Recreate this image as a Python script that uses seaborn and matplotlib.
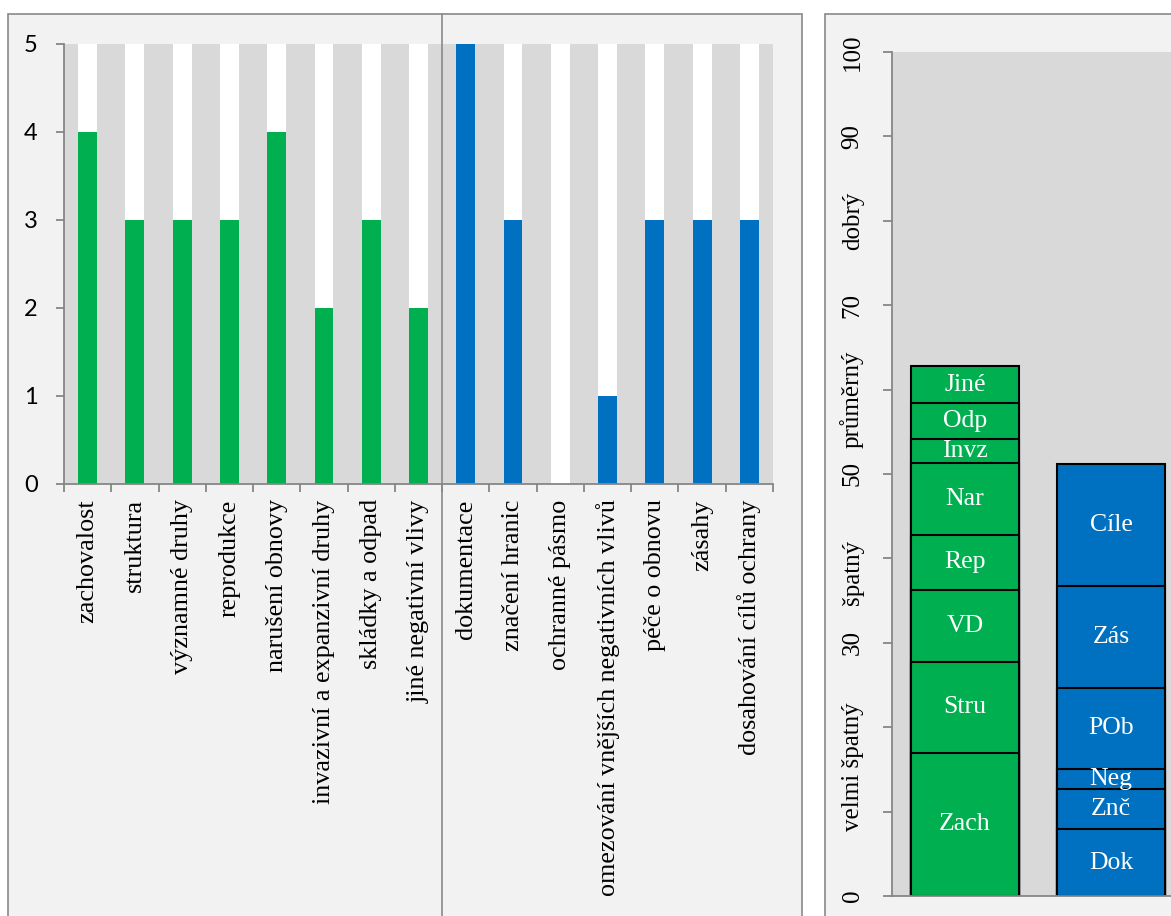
import numpy as np
import pandas as pd
import matplotlib
matplotlib.use("Agg")
import matplotlib.pyplot as plt
import seaborn as sns
from matplotlib.patches import Rectangle
from matplotlib.lines import Line2D
from matplotlib.transforms import blended_transform_factory

# ---- data -----------------------------------------------------------------
criteria_state = ["zachovalost", "struktura", "významné druhy", "reprodukce",
                  "narušení obnovy", "invazivní a expanzivní druhy",
                  "skládky a odpad", "jiné negativní vlivy"]
criteria_care = ["dokumentace", "značení hranic", "ochranné pásmo",
                 "omezování vnějších negativních vlivů", "péče o obnovu",
                 "zásahy", "dosahování cílů ochrany"]
scores_state = [4, 3, 3, 3, 4, 2, 3, 2]
scores_care = [5, 3, 0, 1, 3, 3, 3]
score_max = 5

stack_groups = ["stav", "péče"]
state_abbr = ["Zach", "Stru", "VD", "Rep", "Nar", "Invz", "Odp", "Jiné"]
state_share = [17.0, 10.7, 8.6, 6.5, 8.5, 2.8, 4.3, 4.4]
care_abbr = ["Dok", "Znč", "Neg", "POb", "Zás", "Cíle"]
care_share = [7.9, 4.8, 2.3, 9.7, 12.0, 14.5]

rating_ticks = [0, 10, 20, 30, 40, 50, 60, 70, 80, 90, 100]
rating_tick_labels = ["0", "", "", "30", "", "50", "", "70", "", "90", "100"]
rating_names = ["velmi špatný", "špatný", "průměrný", "dobrý"]
rating_name_pos = [15.3, 38.3, 58.8, 80.0]

# ---- style ----------------------------------------------------------------
GREEN = "#00AF50"
BLUE = "#0070C0"
PLOT_BG = "#D9D9D9"
PANEL_BG = "#F2F2F2"
FRAME = "#898989"
AXIS = "#868686"
SERIF = "Liberation Serif"
SANS = "Lato"

W, H = 1171, 916
fig = plt.figure(figsize=(W / 100, H / 100), dpi=100)
fig.patch.set_facecolor("white")


def fx(px):
    return px / W


def fy(py):
    return 1 - py / H


# panel frames
for x0, x1 in [(8, 802), (825, 1200)]:
    fig.add_artist(Rectangle((fx(x0), fy(940)), fx(x1 - x0), (940 - 14) / H,
                             transform=fig.transFigure, facecolor=PANEL_BG,
                             edgecolor=FRAME, linewidth=1.2, zorder=-5))

# ---- left chart: scores per criterion ------------------------------------
cats = criteria_state + criteria_care
df = pd.DataFrame({
    "criterion": cats,
    "score": scores_state + scores_care,
    "top": [score_max] * len(cats),
})
palette = {c: GREEN for c in criteria_state}
palette.update({c: BLUE for c in criteria_care})

ax1 = fig.add_axes([fx(64), fy(484), fx(709), 440 / H])
ax1.set_facecolor(PLOT_BG)
sns.barplot(data=df, x="criterion", y="top", color="white", width=0.4,
            saturation=1, errorbar=None, linewidth=0, ax=ax1)
sns.barplot(data=df, x="criterion", y="score", hue="criterion",
            palette=palette, width=0.4, saturation=1, errorbar=None,
            linewidth=0, legend=False, ax=ax1)
ax1.set_xlim(-0.5, len(cats) - 0.5)
ax1.set_ylim(0, score_max)
ax1.set_xlabel("")
ax1.set_ylabel("")
for s in ["top", "right"]:
    ax1.spines[s].set_visible(False)
for s in ["left", "bottom"]:
    ax1.spines[s].set_color(AXIS)
    ax1.spines[s].set_linewidth(1.3)
ax1.set_yticks(range(score_max + 1))
ax1.set_yticklabels([str(v) for v in range(score_max + 1)],
                    fontsize=17, family=SANS)
ax1.tick_params(axis="y", length=6, width=1.3, color=AXIS, pad=13)
ax1.set_xticks(range(len(cats)))
ax1.set_xticklabels(cats, rotation=90, fontsize=18.8, family=SERIF, va="top")
ax1.tick_params(axis="x", which="major", length=0, pad=11)
ax1.set_xticks(np.arange(-0.5, len(cats), 1), minor=True)
ax1.tick_params(axis="x", which="minor", length=6, width=1.3, color=AXIS)

# divider between the two criterion groups
fig.add_artist(Line2D([fx(442), fx(442)], [fy(14), fy(930)],
                      transform=fig.transFigure, color=FRAME,
                      linewidth=1.2, zorder=10))

# ---- right chart: stacked contributions -----------------------------------
ax2 = fig.add_axes([fx(892), fy(896), fx(292), 844 / H])
ax2.set_facecolor(PLOT_BG)
stacks = [(stack_groups[0], GREEN, state_abbr, state_share),
          (stack_groups[1], BLUE, care_abbr, care_share)]
for gi, (grp, col, abbr, share) in enumerate(stacks):
    cum = np.cumsum(share)
    for j in reversed(range(len(share))):
        sns.barplot(x=[grp], y=[cum[j]], order=stack_groups, color=col,
                    width=0.733, saturation=1, errorbar=None,
                    edgecolor="black", linewidth=1.5, ax=ax2)
    for j in range(len(share)):
        ax2.text(gi, cum[j] - share[j] / 2, abbr[j], ha="center",
                 va="center", color="white", fontsize=18.5, family=SERIF)

ax2.set_xlim(-0.5, 1.5)
ax2.set_ylim(0, 100)
ax2.set_xlabel("")
ax2.set_ylabel("")
ax2.set_xticks([])
for s in ["top", "right"]:
    ax2.spines[s].set_visible(False)
for s in ["left", "bottom"]:
    ax2.spines[s].set_color(AXIS)
    ax2.spines[s].set_linewidth(1.3)
ax2.set_yticks(rating_ticks)
ax2.set_yticklabels(rating_tick_labels, rotation=90, va="center", ha="right",
                    fontsize=18, family=SERIF)
ax2.tick_params(axis="y", length=6.5, width=1.3, color=AXIS, pad=14)

# rating band names alongside the scale
band_tf = blended_transform_factory(fig.transFigure, ax2.transData)
for name, pos in zip(rating_names, rating_name_pos):
    ax2.text(fx(864), pos, name, transform=band_tf, rotation=90,
             ha="right", va="center", fontsize=18, family=SERIF)

fig.savefig("out.png", dpi=100)
